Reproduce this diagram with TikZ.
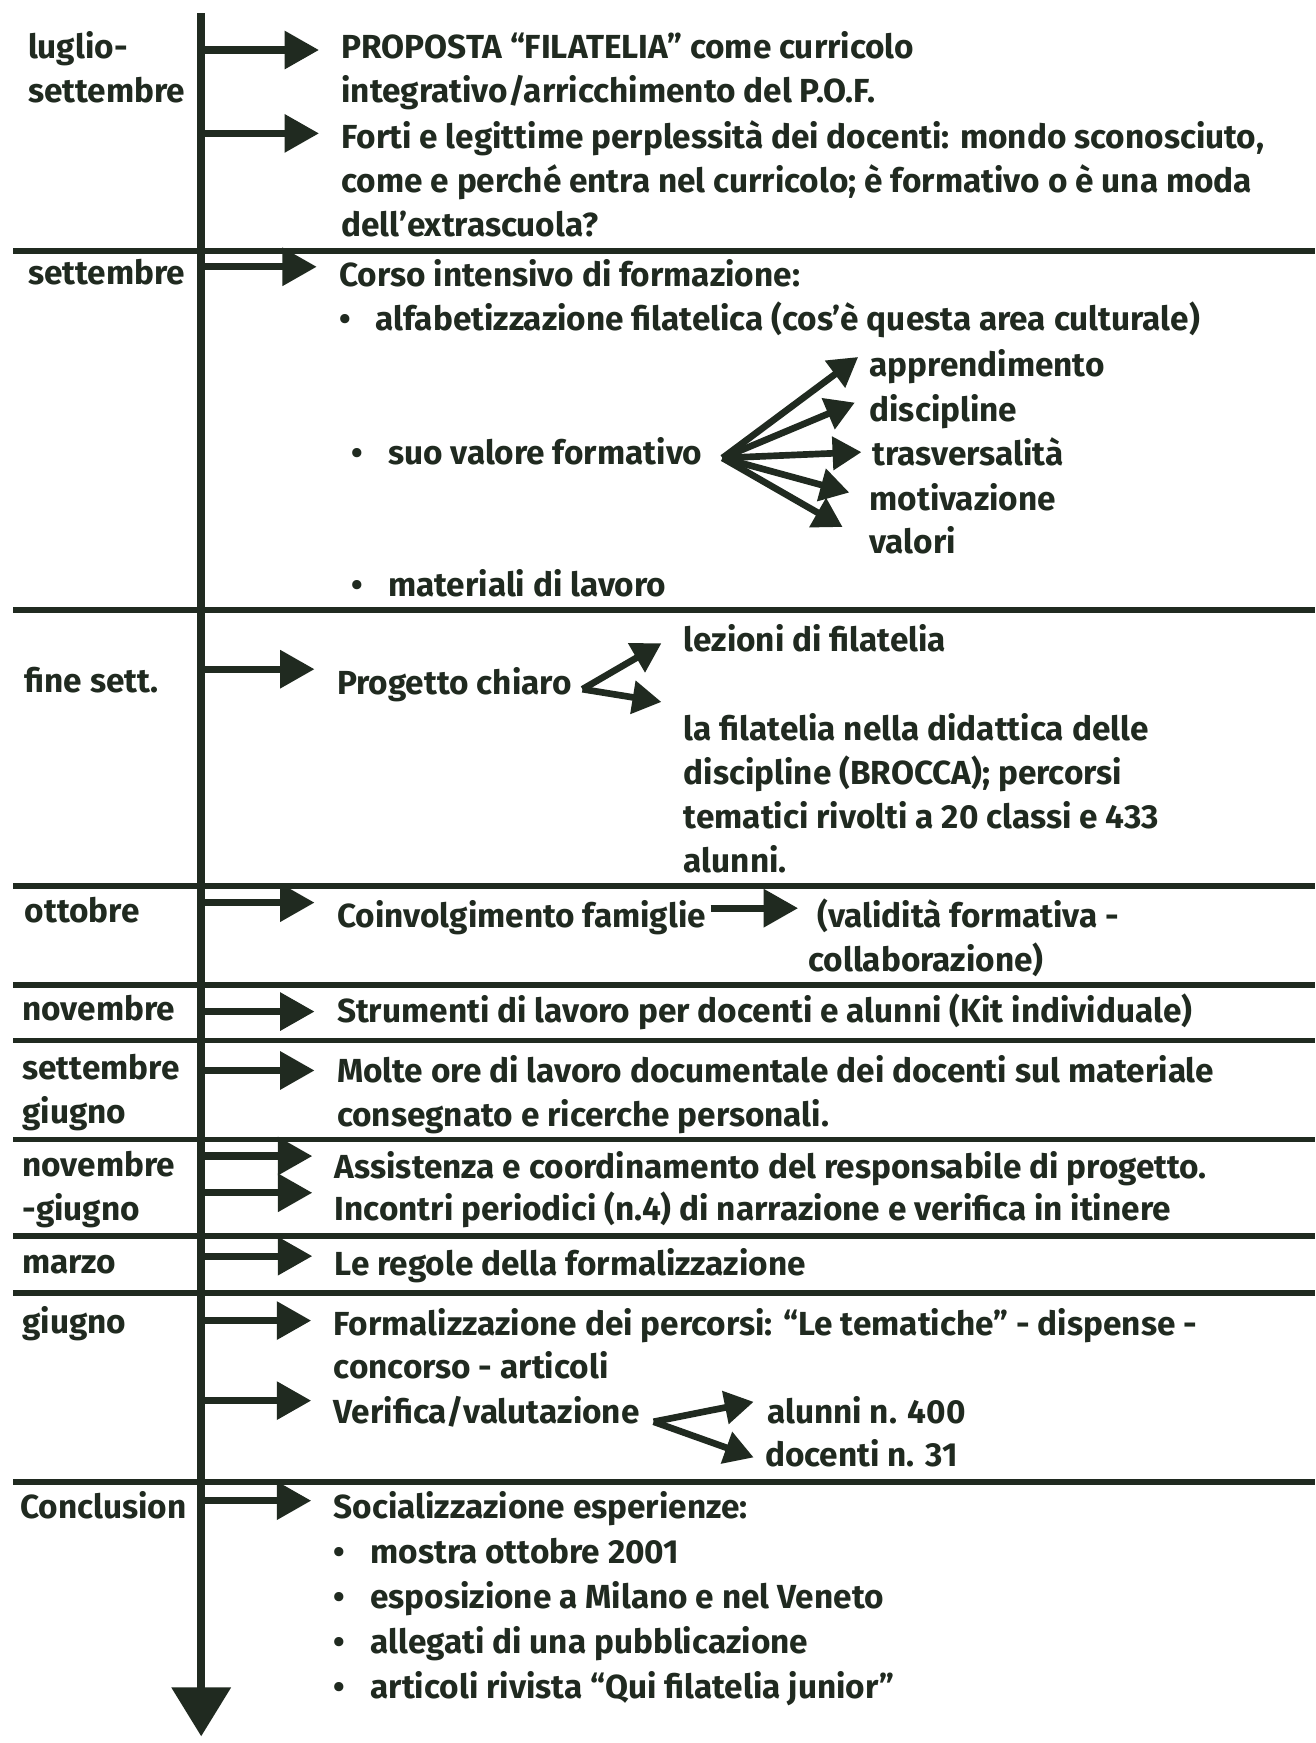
\documentclass[tikz,border=0pt]{standalone}
\usepackage{fontspec}
\setmainfont{Fira Sans}
\usetikzlibrary{arrows.meta}
\definecolor{ink}{RGB}{32,42,32}
\newcommand{\bul}{\makebox[33pt][l]{\textbullet}}

\begin{document}
\begin{tikzpicture}[
		x=1pt, y=-1pt,
		every node/.style={font=\bfseries\fontsize{30}{39.5}\selectfont, text=ink, inner sep=0pt},
		txt/.style={anchor=base west, align=left},
		sep/.style={draw=ink, line width=5pt},
		axis/.style={draw=ink, line width=7pt, -{Triangle[length=44pt,width=52pt]}},
		tl/.style={draw=ink, line width=6.5pt, -{Triangle[length=31pt,width=33pt]}},
		fa/.style={draw=ink, line width=6pt, -{Triangle[length=26pt,width=29pt]}}
		]
		\useasboundingbox[fill=white] (0,0) rectangle (1183,1568);
		% time axis
		\coordinate (top) at (181,12);
		\coordinate (bot) at (181,1562);
		\foreach \y in {226,549,797,886,936,1025,1112,1163,1333}
			\draw[sep] (12,\y) -- (1183,\y);
		\draw[axis] (top) -- (bot);

		% months (multi-line nodes sit on their last baseline)
		\node[txt] (m1) at (25,92.5) {luglio-\\settembre};
		\node[txt] (m2) at (25,256) {settembre};
		\node[txt] (m3) at (22,623) {fine sett.};
		\node[txt] (m4) at (22,830) {ottobre};
		\node[txt] (m5) at (20,918) {novembre};
		\node[txt] (m6) at (20,1010.5) {settembre\\giugno};
		\node[txt] (m7) at (20,1097.5) {novembre\\-giugno};
		\node[txt] (m8) at (20,1146) {marzo};
		\node[txt] (m9) at (20,1200) {giugno};
		\node[txt] (m10) at (18,1366) {Conclusion};

		% steps
		\node[txt] (t1) at (307,92.5) {PROPOSTA “FILATELIA” come curricolo\\integrativo/arricchimento del P.O.F.};
		\node[txt] (t2) at (307,213) {Forti e legittime perplessità dei docenti: mondo sconosciuto,\\come e perché entra nel curricolo; è formativo o è una moda\\dell’extrascuola?};
		\node[txt] (t3) at (305,297.5) {Corso intensivo di formazione:\\\bul alfabetizzazione filatelica (cos’è questa area culturale)};
		\node[txt] (sv) at (316,418) {\bul suo valore formativo};
		\node[txt] (ml) at (316,537) {\bul materiali di lavoro};
		\node[txt] (v1) at (782,339) {apprendimento};
		\node[txt] (v2) at (782,379) {discipline};
		\node[txt] (v3) at (785,419) {trasversalità};
		\node[txt] (v4) at (782,459) {motivazione};
		\node[txt] (v5) at (782,498) {valori};
		\coordinate (fan) at (650,412);

		\node[txt] (t4) at (303,625) {Progetto chiaro};
		\node[txt] (p1) at (615,586) {lezioni di filatelia};
		\node[txt] (p2) at (615,784.5) {la filatelia nella didattica delle\\discipline (BROCCA); percorsi\\tematici rivolti a 20 classi e 433\\alunni.};
		\coordinate (pc) at (524,620);

		\node[txt] (t5) at (303,834) {Coinvolgimento famiglie};
		\node[txt] (f1) at (735,834) {(validità formativa -};
		\node[txt] (f2) at (727,874) {collaborazione)};

		\node[txt] (t6) at (303,920) {Strumenti di lavoro per docenti e alunni (Kit individuale)};
		\node[txt] (t7) at (303,1013.5) {Molte ore di lavoro documentale dei docenti sul materiale\\consegnato e ricerche personali.};
		\node[txt] (t8) at (301,1060) {Assistenza e coordinamento del responsabile di progetto.};
		\node[txt] (t9) at (301,1098) {Incontri periodici (n.4) di narrazione e verifica in itinere};
		\node[txt] (t10) at (301,1147) {Le regole della formalizzazione};
		\node[txt] (t11) at (300,1240.5) {Formalizzazione dei percorsi: “Le tematiche” - dispense -\\concorso - articoli};
		\node[txt] (t12) at (300,1281) {Verifica/valutazione};
		\node[txt] (r1) at (690,1281) {alunni n. 400};
		\node[txt] (r2) at (688,1319) {docenti n. 31};
		\coordinate (vv) at (588,1279);
		\node[txt, font=\bfseries\fontsize{30}{40.5}\selectfont] (t13) at (300,1528) {Socializzazione esperienze:\\\bul mostra ottobre 2001\\\bul esposizione a Milano e nel Veneto\\\bul allegati di una pubblicazione\\\bul articoli rivista “Qui filatelia junior”};

		% arrows from the axis
		\foreach \y/\t in {45/t1,120/t2,240/t3,602/t4,812/t5,910/t6,963/t7,1040/t8,1073/t9,1130/t10,1188/t11,1260/t12,1350/t13}
			\draw[tl] (top |- 0,\y) -- ([xshift=-20pt]\t.west |- 0,\y);

		% inner arrows
		\draw[fa] (fan) -- ([shift={(-10,-9)}]v1.west);
		\draw[fa] (fan) -- ([shift={(-13,-8)}]v2.west);
		\draw[fa] (fan) -- ([xshift=-10]v3.west);
		\draw[fa] (fan) -- ([shift={(-18,-4)}]v4.west);
		\draw[fa] (fan) -- ([shift={(-24,-12)}]v5.west);
		\draw[fa] (pc) -- ([shift={(-20,-8)}]p1.south west);
		\draw[fa] (pc) -- ([shift={(-20,-10)}]p2.north west);
		\draw[tl] ([xshift=4pt]t5.east |- 0,817) -- ([xshift=-17pt]f1.west |- 0,817);
		\draw[fa] (vv) -- ([shift={(-12,-8)}]r1.west);
		\draw[fa] (vv) -- ([shift={(-10,4)}]r2.west);
	\end{tikzpicture}
\end{document}
